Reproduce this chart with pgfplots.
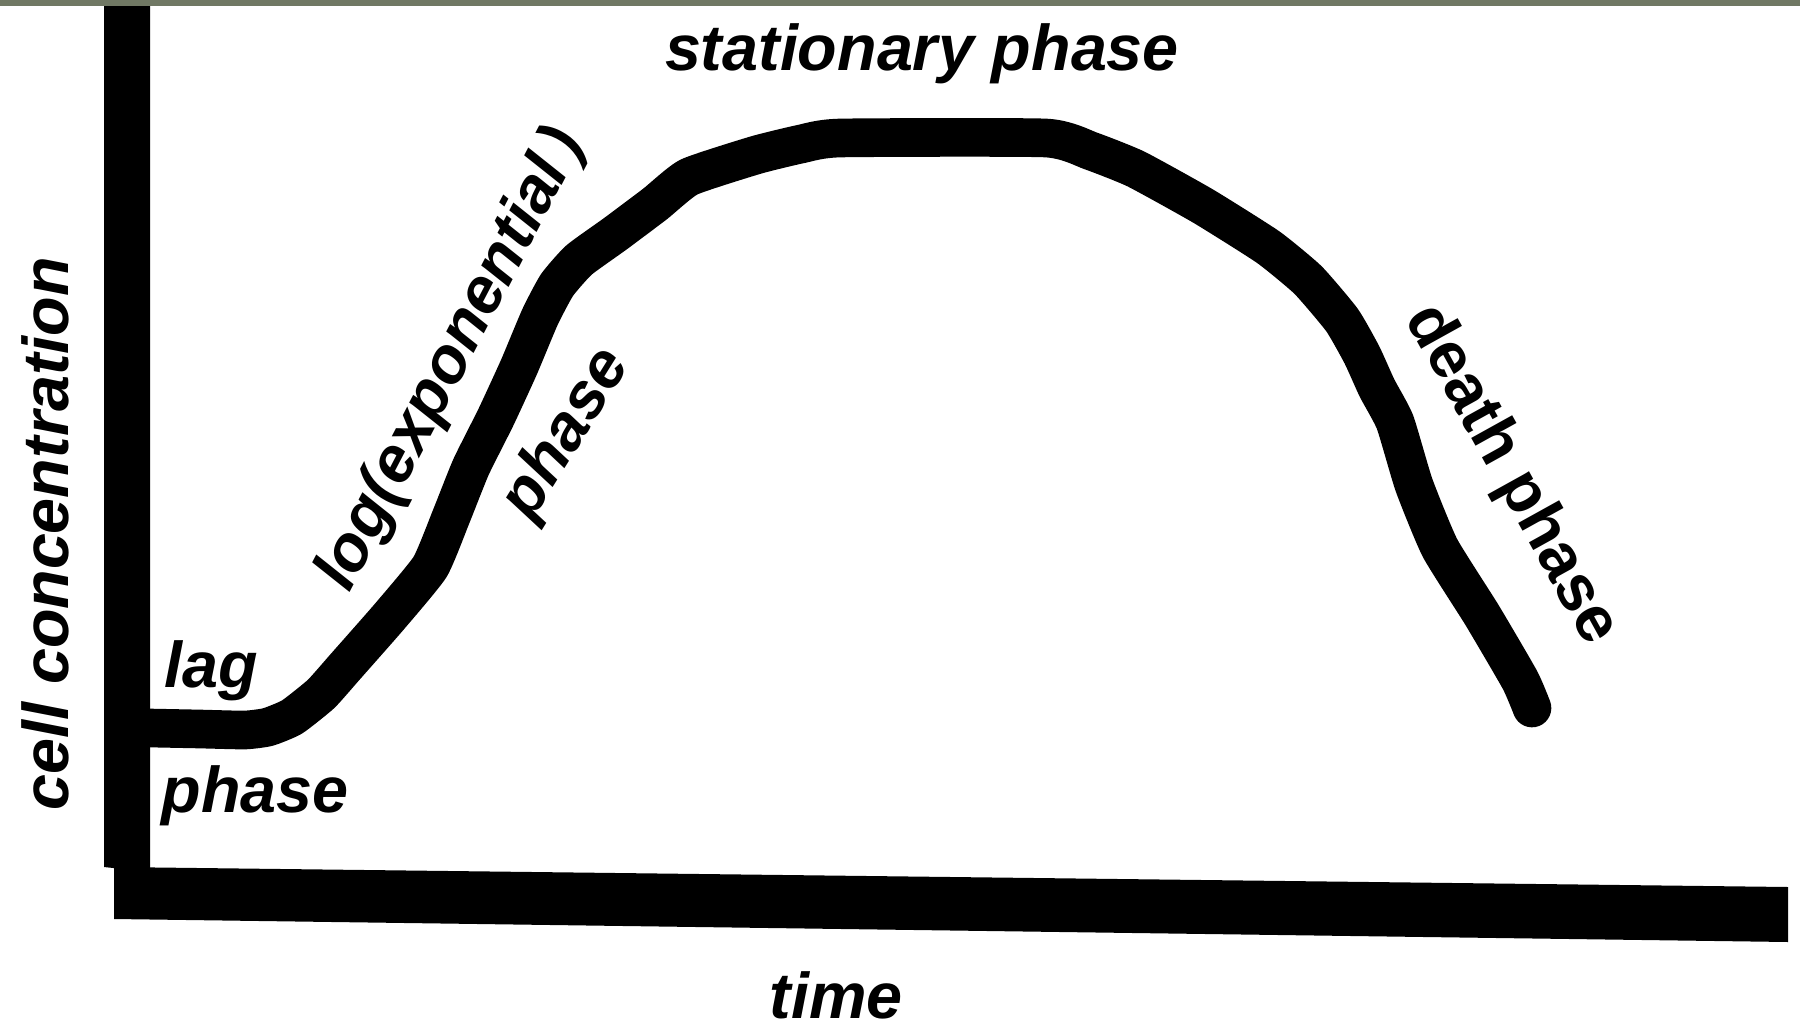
\documentclass[border=0pt]{standalone}
\usepackage{fontspec}
\setmainfont{Liberation Sans}
\usepackage{pgfplots}
\pgfplotsset{compat=1.18}
\definecolor{band}{RGB}{112,120,100}
\tikzset{
  lbl/.style={font=\fontsize{18.4}{22}\selectfont\bfseries\itshape, inner sep=0pt},
  lblup/.style={font=\fontsize{18.4}{22}\selectfont\bfseries, inner sep=0pt},
}
\begin{document}
\begin{tikzpicture}
\begin{axis}[
  width=18cm, height=10.27cm, scale only axis,
  xmin=0, xmax=1800, ymin=0, ymax=1027,
  y dir=reverse, hide axis, clip=false,
]
% top band
\addplot[fill=band, draw=none] coordinates {(0,0) (1800,0) (1800,6) (0,6)} -- cycle;
% vertical axis bar
\addplot[fill=black, draw=none] coordinates {(104,6) (150,6) (150,872) (104,867)} -- cycle;
% horizontal axis bar
\addplot[fill=black, draw=none] coordinates {(114,867) (1788,887) (1788,942) (114,919)} -- cycle;
% growth curve
\addplot[black, line width=11pt, line cap=round, line join=round, smooth, tension=0.3] coordinates {
(150,728) (200,729) (245,730) (268,727) (292,717) (321,694) (345,667) (389,617)
(430,567) (451,517) (471,467) (496,417) (519,367) (540,317) (557,285) (579,260)
(615,234) (655,204) (689,177) (756,155) (801,144) (840,138) (1046,138) (1091,151)
(1136,169) (1203,206) (1268,247) (1308,280) (1342,320) (1362,355) (1377,388)
(1395,422) (1414,485) (1440,548) (1482,615) (1520,680) (1532,708)
};
\node[lbl, anchor=center] at (axis cs:922,54) {stationary phase};
\node[lbl, anchor=base west] at (axis cs:164,687) {lag};
\node[lbl, anchor=base west] at (axis cs:161,812) {phase};
\node[lbl, anchor=base] at (axis cs:836,1018) {time};
\node[lbl, anchor=base, rotate=90] at (axis cs:68,534) {cell concentration};
\node[lbl, anchor=center, rotate=62.5] at (axis cs:452,360) {log(exponential\,)};
\node[lbl, anchor=center, rotate=58] at (axis cs:567,434) {phase};
\node[lblup, anchor=center, rotate=-61] at (axis cs:1511,475) {death phase};
\end{axis}
\pgfresetboundingbox
\useasboundingbox (0,0) rectangle (18cm,10.27cm);
\end{tikzpicture}
\end{document}
